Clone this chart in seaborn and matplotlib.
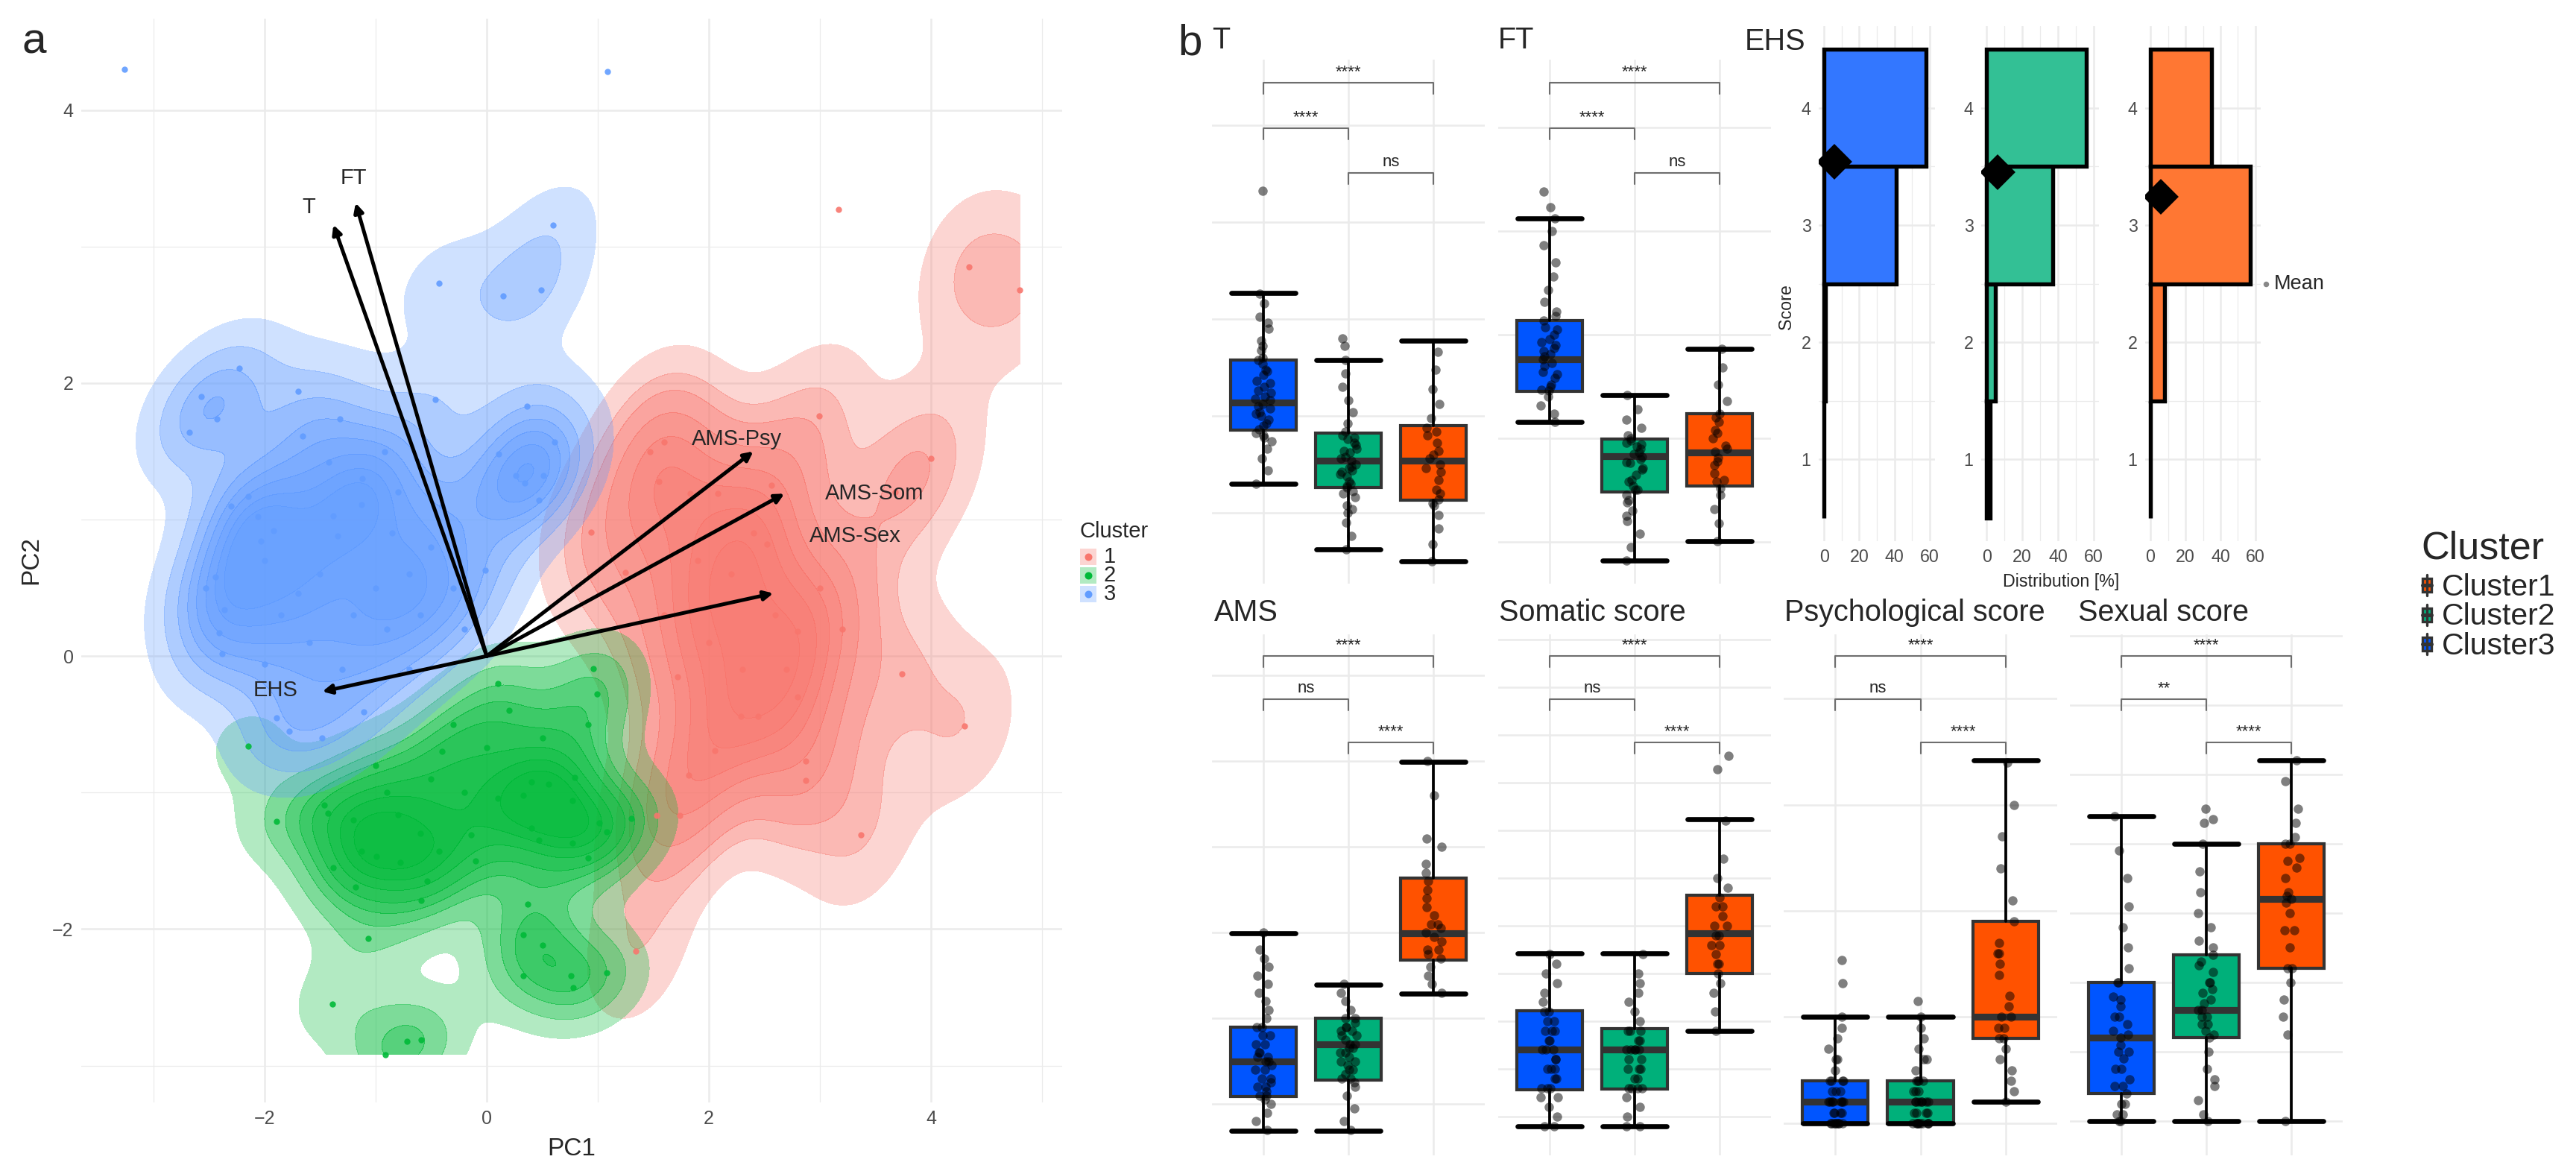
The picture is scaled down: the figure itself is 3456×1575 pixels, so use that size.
import numpy as np
import pandas as pd
import matplotlib
matplotlib.use("Agg")
import matplotlib.pyplot as plt
from matplotlib.colors import to_rgba
from matplotlib.patches import Rectangle
import seaborn as sns

sns.set_theme(style="white")
plt.rcParams['font.family'] = ['Liberation Sans', 'DejaVu Sans']

# ---------------- data: panel a (PCA scores) ----------------
pc1_c1 = [2.99, 1.47, 1.60, 1.55, 1.83, 2.08, 2.56, 2.52, 1.25, 0.94, 2.80, 2.80, 2.87, 2.29,
          2.44, 2.05, 1.72, 1.82, 1.74, 1.53, 2.15, 1.34, 3.17, 4.34, 4.80, 4.00, 3.68, 3.74,
          4.30, 3.37, 2.87, 2.20, 2.60, 2.00, 2.40, 3.00, 1.90, 2.70, 3.20, 1.60, 2.30]
pc2_c1 = [1.76, 1.50, 1.57, 1.28, 1.19, 1.19, 1.25, 0.82, 0.61, 0.91, 0.18, -0.30, -0.77, -0.44,
          -0.44, -0.69, -0.15, -0.87, -1.17, -1.17, 0.39, -2.16, 3.27, 2.85, 2.68, 1.45, 1.20,
          -0.13, -0.51, -1.31, -0.91, 0.60, 0.30, 0.10, 0.90, 0.50, 0.70, -0.10, 0.20, 0.30, -0.10]
pc1_c2 = [-2.15, -1.89, -1.46, -1.43, -1.13, -0.99, -0.78, -1.38, -1.18, -0.54, -0.59, -0.43,
          -0.14, 0.40, 0.47, 0.77, 0.91, 1.01, 1.08, 1.30, 0.37, 0.33, 0.50, 0.33, 0.76, 0.78,
          1.08, -1.07, -1.39, -0.72, -0.59, -0.91, 0.33, 0.10, 0.79, 0.77, 0.99, 0.96, 0.91,
          0.56, 0.40, -0.80, 0.00, -0.50, -0.30, -1.00, -0.60, 0.20, -0.20, 0.50, -0.90, -0.40,
          0.10, -1.20, -0.10]
pc2_c2 = [-0.66, -1.21, -1.09, -1.15, -1.43, -1.47, -1.51, -1.55, -1.69, -1.65, -1.79, -1.43,
          -1.31, -1.26, -1.35, -1.37, -1.48, -1.22, -1.29, -1.19, -1.82, -2.04, -2.12, -2.34,
          -2.34, -2.43, -2.32, -2.07, -2.55, -2.82, -2.81, -2.92, -1.02, -1.04, -0.89, -1.06,
          -0.28, -0.09, -0.50, -0.94, -0.92, -1.16, -0.67, -0.90, -0.50, -0.80, -1.30, -0.40,
          -1.00, -0.60, -1.00, -0.70, -0.20, -1.20, -1.50]
pc1_c3 = [-3.26, 1.09, 0.60, -0.43, 0.15, 0.49, -2.23, -1.70, -2.57, -0.46, 0.36, -2.43, -1.32,
          -2.68, -1.66, 0.61, -0.92, 0.11, -1.42, 0.26, 0.51, -1.12, 0.34, -2.15, -2.30, 0.47,
          -1.38, -2.06, -1.13, -1.92, -2.03, -1.34, -2.44, -2.00, -2.53, -0.01, -2.36, -2.41,
          -2.38, -2.00, -1.85, -1.70, -1.89, -1.78, -1.48, -1.11, -0.85, -0.70, -0.50, -1.00,
          -0.90, -0.60, -0.30, -1.20, -0.40, -0.80, -1.50, -0.20, -1.30, -0.70, -1.60]
pc2_c3 = [4.30, 4.28, 3.16, 2.73, 2.64, 2.68, 2.11, 1.94, 1.90, 1.88, 1.83, 1.74, 1.74, 1.64,
          1.61, 1.57, 1.50, 1.48, 1.42, 1.32, 1.32, 1.30, 1.27, 1.17, 1.10, 1.14, 1.03, 1.02,
          1.11, 0.92, 0.84, 0.88, 0.58, 0.70, 0.50, 0.63, 0.34, 0.17, 0.02, -0.06, 0.30, 0.46,
          -0.45, -0.55, -0.60, -0.41, 0.90, 0.60, 0.80, 0.50, 0.20, 0.30, 0.50, 0.30, 1.10,
          1.20, 0.60, 0.20, -0.10, -0.10, 0.10]

loading_names = ['T', 'FT', 'AMS-Psy', 'AMS-Som', 'AMS-Sex', 'EHS']
loading_pc1 = [-1.38, -1.18, 2.40, 2.68, 2.58, -1.48]
loading_pc2 = [3.16, 3.32, 1.50, 1.19, 0.46, -0.26]

# ---------------- data: panel b ----------------
groups = ['Cluster3', 'Cluster2', 'Cluster1']   # order on the x axis
# box stats per group: [lower whisker, Q1, median, Q3, upper whisker]
t_box = [[6.5, 9.27, 10.7, 12.9, 16.35], [3.1, 6.3, 7.7, 9.1, 12.9], [2.5, 5.65, 7.7, 9.5, 13.9]]
t_pts = [[6.5, 7.2, 7.8, 8.3, 8.7, 8.9, 9.0, 9.1, 9.3, 9.5, 9.6, 9.8, 10.0, 10.1, 10.2, 10.4,
          10.5, 10.6, 10.8, 10.9, 11.0, 11.2, 11.3, 11.5, 11.7, 11.8, 12.1, 12.3, 12.4, 12.7,
          12.9, 13.0, 13.4, 13.6, 13.9, 14.5, 14.8, 15.1, 15.8, 16.3, 21.6],
         [3.1, 3.8, 4.5, 5.0, 5.2, 5.4, 5.8, 6.0, 6.1, 6.3, 6.4, 6.5, 6.6, 6.9, 7.0, 7.1, 7.2,
          7.3, 7.4, 7.5, 7.7, 7.8, 7.9, 8.1, 8.2, 8.3, 8.5, 8.6, 8.8, 8.9, 9.0, 9.2, 9.6, 10.2,
          10.8, 11.5, 12.2, 12.9, 13.6, 14.0],
         [2.5, 3.4, 4.2, 4.9, 5.4, 5.5, 5.7, 6.0, 6.2, 6.7, 7.1, 7.3, 7.5, 7.8, 8.0, 8.2, 8.6,
          9.0, 9.2, 9.4, 9.9, 10.6, 11.4, 12.4, 13.3]]
ft_box = [[216, 245, 276, 314, 412], [82, 148, 183, 199, 242], [101, 154, 186, 224, 286]]
ft_pts = [[216, 224, 232, 240, 246, 247, 250, 252, 258, 262, 264, 270, 273, 276, 279, 281, 284,
           287, 290, 293, 296, 300, 305, 307, 314, 318, 322, 332, 343, 356, 370, 386, 400, 412,
           423, 438],
          [82, 95, 108, 120, 125, 130, 138, 140, 145, 150, 150, 154, 158, 160, 165, 170, 171,
           176, 177, 180, 182, 185, 186, 190, 192, 194, 196, 198, 200, 203, 210, 218, 228, 242],
          [101, 118, 132, 145, 152, 158, 160, 166, 174, 178, 181, 187, 190, 193, 200, 205, 208,
           216, 220, 224, 236, 252, 268, 286]]
ams_box = [[16.9, 20.9, 25.0, 29.0, 39.9], [16.9, 22.8, 27.0, 30.0, 33.9], [32.9, 36.8, 39.9, 46.4, 59.9]]
ams_pts = [[17, 18, 19, 20, 20.5, 21, 21, 21.5, 22, 22, 22.5, 23, 23, 24, 24, 24.5, 25, 25, 25.5,
            25.5, 26, 26, 27, 27, 28, 28, 29, 29, 30, 31, 32, 33, 34, 35, 36, 37, 38, 40],
           [17, 18, 19.5, 21, 22, 22.5, 23, 23, 23.5, 24, 24, 24.5, 25, 25, 25.5, 26, 26, 26.5,
            26.5, 27, 27, 27.5, 28, 28, 28.5, 28.5, 29, 29, 29.5, 30, 30, 31, 32, 33, 34],
           [33, 34, 35, 36, 37, 37.5, 38, 38, 39, 39.5, 40, 40.5, 41, 41, 42, 43, 44, 45, 46, 47,
            48, 50, 51, 56, 60]]
som_box = [[7.0, 8.9, 11.0, 13.05, 16.05], [7.0, 8.95, 11.0, 12.1, 16.05], [12.0, 15.0, 17.1, 19.1, 23.1]]
som_pts = [[7, 7, 7.5, 8, 8.5, 8.5, 9, 9, 9, 9.5, 9.5, 10, 10, 10, 10.5, 10.5, 11, 11, 11, 11.5,
            11.5, 12, 12, 12, 12.5, 12.5, 13, 13, 13.5, 14, 14.5, 15, 15.5, 16],
           [7, 7, 7.5, 8, 8.5, 9, 9, 9, 9, 9.5, 9.5, 10, 10, 10, 10.5, 10.5, 11, 11, 11, 11, 11,
            11.5, 11.5, 12, 12, 12, 12.5, 13, 13.5, 14, 14.5, 15, 16],
           [12, 13, 14, 14.5, 15, 15.5, 15.5, 16, 16.5, 16.5, 17, 17, 17.5, 17.5, 18, 18.5, 18.5,
            19, 19.5, 20, 21, 23, 25.7, 26.4]]
psy_box = [[5.0, 5.0, 6.0, 7.0, 10.0], [5.0, 5.0, 6.0, 7.0, 10.0], [6.0, 9.0, 10.0, 14.5, 22.1]]
psy_pts = [[5, 5, 5, 5, 5, 5, 5, 5, 5, 5.5, 5.5, 5.5, 5.5, 6, 6, 6, 6, 6, 6, 6, 6.5, 6.5, 6.5,
            7, 7, 7, 7, 7.5, 8, 8, 8.5, 9, 9.5, 10, 11.6, 12.7],
           [5, 5, 5, 5, 5, 5, 5, 5, 5, 5, 5.5, 5.5, 5.5, 5.5, 6, 6, 6, 6, 6, 6, 6, 6.5, 6.5, 6.5,
            7, 7, 7, 7, 7.5, 8, 8, 8.5, 9, 9.5, 10, 10.75],
           [6, 6.5, 7, 7.5, 8, 8.5, 9, 9, 9.5, 9.5, 10, 10, 10.5, 11, 12, 12.5, 13, 13, 13.5, 14.5,
            15.5, 17, 18.5, 20, 22]]
sex_box = [[3.0, 3.8, 5.4, 7.0, 11.8], [3.0, 5.4, 6.2, 7.8, 11.0], [3.0, 7.4, 9.4, 11.0, 13.4]]
sex_pts = [[3, 3, 3.2, 3.2, 3.5, 3.5, 3.8, 4, 4, 4.2, 4.5, 4.5, 4.8, 5, 5, 5.2, 5.4, 5.5, 5.6,
            5.8, 6, 6, 6.3, 6.5, 6.6, 7, 7, 7.4, 8, 8.6, 9.2, 10, 10.8, 11.8],
           [3, 3.2, 3.6, 4, 4.2, 4.5, 5, 5.4, 5.5, 5.6, 5.8, 5.8, 6, 6, 6.2, 6.2, 6.4, 6.5, 6.7,
            6.8, 7, 7, 7.3, 7.5, 7.6, 7.8, 8, 8.2, 8.6, 9, 9.6, 10.2, 11, 11.6, 11.7, 12.0],
           [3, 5.5, 6.0, 6.5, 7.0, 7.4, 7.4, 8, 8.5, 8.5, 9, 9.3, 9.4, 9.5, 9.6, 10, 10.3, 10.5,
            10.6, 11, 11, 11.2, 11.6, 12, 12.8, 13.4]]
# significance labels for pairs (C3 vs C1), (C3 vs C2), (C2 vs C1)
t_sig = ['****', '****', 'ns']
ft_sig = ['****', '****', 'ns']
ams_sig = ['****', 'ns', '****']
som_sig = ['****', 'ns', '****']
psy_sig = ['****', 'ns', '****']
sex_sig = ['****', '**', '****']

ehs_scores = [1, 2, 3, 4]
ehs_pct_c3 = [0, 1, 41, 58]
ehs_pct_c2 = [2, 5, 37, 56]
ehs_pct_c1 = [0, 8, 57, 35]
ehs_mean = [3.54, 3.45, 3.24]   # Cluster3, Cluster2, Cluster1

# ---------------- styling ----------------
W, H, DPI = 3456, 1575, 300
GRID = '#EBEBEB'
TXT_GREY = '#4D4D4D'
pca_cols = ['#F8766D', '#00BA38', '#619CFF']                 # cluster 1, 2, 3
box_cols = {'Cluster1': '#FF5200', 'Cluster2': '#00B07A', 'Cluster3': '#0055FF'}
hist_cols = {'Cluster1': '#FF7733', 'Cluster2': '#33C095', 'Cluster3': '#3377FF'}

fig = plt.figure(figsize=(W / DPI, H / DPI), dpi=DPI)


def px_axes(x0, y0, x1, y1):
    return fig.add_axes([x0 / W, 1 - y1 / H, (x1 - x0) / W, (y1 - y0) / H])


def without_isolated(d, radius=1.05):
    # isolated single points add no visible density in the original, leave them out of the KDE
    xy = d[['PC1', 'PC2']].to_numpy()
    dist = np.sqrt(((xy[:, None, :] - xy[None, :, :]) ** 2).sum(-1))
    np.fill_diagonal(dist, np.inf)
    return d[dist.min(axis=1) < radius]


# ---------------- panel a ----------------
axa = px_axes(109, 25, 1425, 1479)
xs_all = pc1_c1 + pc1_c2 + pc1_c3
ys_all = pc2_c1 + pc2_c2 + pc2_c3
clip = ((min(xs_all), max(xs_all)), (min(ys_all), max(ys_all)))
pca_sets = [pd.DataFrame({'PC1': pc1_c1, 'PC2': pc2_c1}),
            pd.DataFrame({'PC1': pc1_c2, 'PC2': pc2_c2}),
            pd.DataFrame({'PC1': pc1_c3, 'PC2': pc2_c3})]
for d, col in zip(pca_sets, pca_cols):
    r, g, b, _ = to_rgba(col)
    bands = [(r, g, b, 1 - 0.7 ** (i + 1)) for i in range(8)]
    sns.kdeplot(data=without_isolated(d), x='PC1', y='PC2', fill=True, levels=9, thresh=0.05,
                color=col, colors=bands, cut=4, clip=clip, bw_adjust=0.72, ax=axa)
for d, col in zip(pca_sets, pca_cols):
    sns.scatterplot(data=d, x='PC1', y='PC2', color=col, s=4, linewidth=0, alpha=0.9, ax=axa,
                    legend=False, zorder=4)

label_offsets = {'T': (-0.22, 0.13), 'FT': (-0.02, 0.18), 'AMS-Psy': (-0.15, 0.09),
                 'AMS-Som': (0.81, 0.0), 'AMS-Sex': (0.74, 0.42), 'EHS': (-0.42, 0.01)}
for name, lx, ly in zip(loading_names, loading_pc1, loading_pc2):
    axa.annotate('', xy=(lx, ly), xytext=(0, 0),
                 arrowprops=dict(arrowstyle='-|>', color='black', lw=1.2,
                                 mutation_scale=6, shrinkA=0, shrinkB=0), zorder=5)
    dx, dy = label_offsets[name]
    axa.text(lx + dx, ly + dy, name, ha='center', va='center', fontsize=7, zorder=6)

axa.set_xlim(-3.65, 5.18)
axa.set_ylim(-3.27, 4.67)
axa.set_xticks([-2, 0, 2, 4])
axa.set_yticks([-2, 0, 2, 4])
axa.set_xticks([-3, -1, 1, 3, 5], minor=True)
axa.set_yticks([-3, -1, 1, 3], minor=True)
axa.grid(which='major', color=GRID, lw=0.6)
axa.grid(which='minor', color=GRID, lw=0.3)
axa.set_axisbelow(True)
for s in axa.spines.values():
    s.set_visible(False)
axa.tick_params(which='both', length=0, labelsize=6, labelcolor=TXT_GREY, pad=2.5)
axa.set_xlabel('PC1', fontsize=8, labelpad=3)
axa.set_ylabel('PC2', fontsize=8, labelpad=3)


# ---------------- panel b: box panels ----------------
np.random.seed(7)


def box_panel(rect, stats, pts, sig, ylim, gridy, sig_px):
    ax = px_axes(*rect)
    hpx = rect[3] - rect[1]
    unit = (ylim[1] - ylim[0]) / hpx     # data units per pixel
    for gy in gridy:
        ax.axhline(gy, color=GRID, lw=0.6, zorder=0)
    for gx in range(3):
        ax.axvline(gx, color=GRID, lw=0.6, zorder=0)
    bstats = [dict(whislo=s[0], q1=s[1], med=s[2], q3=s[3], whishi=s[4], fliers=[])
              for s in stats]
    bp = ax.bxp(bstats, positions=[0, 1, 2], widths=0.77, patch_artist=True,
                showfliers=False, capwidths=0.75,
                boxprops=dict(edgecolor='#333333', linewidth=1.0),
                medianprops=dict(color='#333333', linewidth=2.2),
                whiskerprops=dict(color='black', linewidth=0.9),
                capprops=dict(color='black', linewidth=1.6))
    for patch, gname in zip(bp['boxes'], groups):
        patch.set_facecolor(box_cols[gname])
    df = pd.DataFrame({'grp': np.repeat(groups, [len(p) for p in pts]),
                       'val': np.concatenate(pts)})
    sns.stripplot(data=df, x='grp', y='val', order=groups, color='black', alpha=0.5,
                  size=3, jitter=0.1, linewidth=0, ax=ax, zorder=5)
    pairs = [(0, 2), (0, 1), (1, 2)]
    for (i, j), lab, ypx in zip(pairs, sig, sig_px):
        yv = ylim[0] + (rect[3] - ypx) * unit
        d = 15 * unit
        ax.plot([i, i, j, j], [yv - d, yv, yv, yv - d], color='#6E6E6E', lw=0.5, zorder=3)
        ax.text((i + j) / 2, yv + 9 * unit, lab, ha='center', va='baseline', fontsize=5.3)
    ax.set_xlim(-0.6, 2.6)
    ax.set_ylim(*ylim)
    ax.set_xlabel('')
    ax.set_ylabel('')
    ax.axis('off')
    return ax


top_sig_px = [111, 172, 232]
bot_sig_px = [880, 938, 996]
box_panel((1626, 80, 1992, 783), t_box, t_pts, t_sig, (1.35, 28.38), [5, 10, 15, 20, 25], top_sig_px)
box_panel((2010, 80, 2376, 783), ft_box, ft_pts, ft_sig, (59.7, 565.5), [100, 200, 300, 400, 500], top_sig_px)
box_panel((1626, 851, 1992, 1550), ams_box, ams_pts, ams_sig, (14.0, 74.8), [20, 30, 40, 50, 60, 70], bot_sig_px)
box_panel((2010, 851, 2376, 1550), som_box, som_pts, som_sig, (5.47, 32.77),
          [7.5, 10, 12.5, 15, 17.5, 20, 22.5, 25, 27.5, 30, 32.5], bot_sig_px)
box_panel((2393, 851, 2760, 1550), psy_box, psy_pts, psy_sig, (3.49, 28.02), [5, 10, 15, 20, 25], bot_sig_px)
box_panel((2777, 851, 3143, 1550), sex_box, sex_pts, sex_sig, (2.01, 17.04),
          [3, 5, 7, 9, 11, 13, 15, 17], bot_sig_px)

# ---------------- panel b: EHS histograms ----------------
ehs_sets = [('Cluster3', ehs_pct_c3, 2440, 2596), ('Cluster2', ehs_pct_c2, 2658, 2816),
            ('Cluster1', ehs_pct_c1, 2878, 3033)]
for k, (gname, pct, x0, x1) in enumerate(ehs_sets):
    ax = px_axes(x0, 35, x1, 726)
    for gx in [0, 20, 40, 60]:
        ax.axvline(gx, color=GRID, lw=0.6, zorder=0)
    for gx in [10, 30, 50]:
        ax.axvline(gx, color=GRID, lw=0.3, zorder=0)
    for gy in [1, 2, 3, 4]:
        ax.axhline(gy, color=GRID, lw=0.6, zorder=0)
    for gy in [1.5, 2.5, 3.5]:
        ax.axhline(gy, color=GRID, lw=0.3, zorder=0)
    hd = pd.DataFrame({'pct': pct, 'score': ehs_scores})
    sns.barplot(data=hd, x='pct', y='score', orient='h', native_scale=True, width=1,
                color=hist_cols[gname], saturation=1, edgecolor='black', linewidth=1.3,
                errorbar=None, ax=ax, zorder=2)
    ax.plot([6], [ehs_mean[k]], marker='D', ms=7, color='black', zorder=6)
    ax.set_xlim(-3, 63)
    ax.set_ylim(0.3, 4.7)
    ax.set_xticks([0, 20, 40, 60])
    ax.set_yticks([1, 2, 3, 4])
    ax.tick_params(length=0, labelsize=5.6, labelcolor=TXT_GREY, pad=2.5)
    ax.set_xlabel('')
    ax.set_ylabel('')
    ax.grid(False)
    for s in ax.spines.values():
        s.set_visible(False)
    ax.set_facecolor('none')

# ---------------- free text and legends ----------------
lax = fig.add_axes([0, 0, 1, 1], zorder=10)
lax.set_xlim(0, W)
lax.set_ylim(H, 0)
lax.axis('off')

lax.text(30, 72, 'a', fontsize=14, va='baseline')
lax.text(1580, 73, 'b', fontsize=14, va='baseline')
titles = [('T', 1626, 65), ('FT', 2010, 65), ('EHS', 2341, 67), ('AMS', 1629, 833),
          ('Somatic score', 2011, 833), ('Psychological score', 2394, 833),
          ('Sexual score', 2788, 833)]
for txt, x, y in titles:
    lax.text(x, y, txt, fontsize=9.5, va='baseline', ha='left')

lax.text(2397, 412, 'Score', fontsize=5.6, rotation=90, ha='center', va='center')
lax.text(2765, 780, 'Distribution [%]', fontsize=5.6, ha='center', va='center')
lax.plot([3040], [381], 'o', ms=0.8, color='#888888')
lax.text(3051, 381, 'Mean', fontsize=6.5, ha='left', va='center')

# panel a legend
lax.text(1449, 713, 'Cluster', fontsize=7, ha='left', va='center')
for i, col in enumerate(pca_cols):
    cy = 747 + 25 * i
    lax.add_patch(Rectangle((1449, cy - 11), 22, 22, facecolor=to_rgba(col, 0.3), edgecolor='none'))
    lax.plot([1460], [cy], 'o', ms=1.4, color=col)
    lax.text(1481, cy, str(i + 1), fontsize=7, ha='left', va='center')

# panel b legend
lax.text(3248, 749, 'Cluster', fontsize=12.5, ha='left', va='baseline')
for i, gname in enumerate(['Cluster1', 'Cluster2', 'Cluster3']):
    base = 799 + 39.5 * i
    cy = base - 14
    lax.plot([3256, 3256], [cy - 14, cy + 14], color='#333333', lw=0.8)
    lax.add_patch(Rectangle((3250, cy - 9), 12, 18, facecolor=box_cols[gname],
                            edgecolor='#333333', lw=0.8))
    lax.plot([3250, 3262], [cy, cy], color='#333333', lw=1.2)
    lax.text(3276, base, gname, fontsize=9.8, ha='left', va='baseline')

fig.savefig('out.png', dpi=DPI, facecolor='white')
